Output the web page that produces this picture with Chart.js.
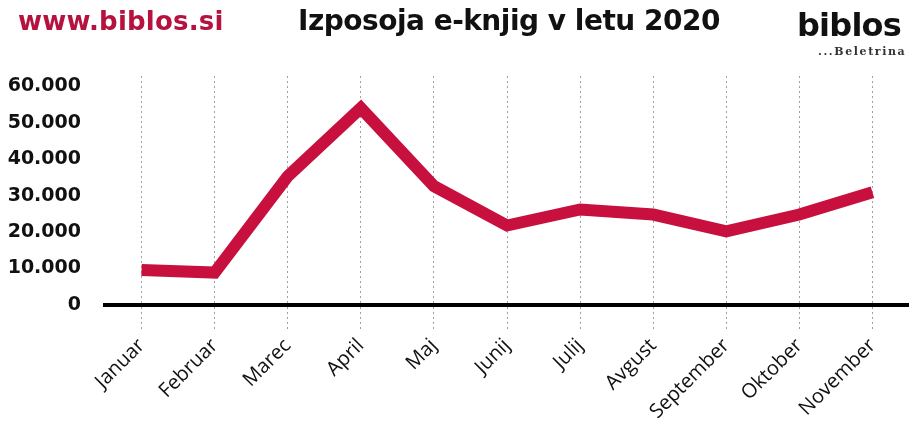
<!DOCTYPE html>
<html>
<head>
<meta charset="utf-8">
<script src="https://cdn.jsdelivr.net/npm/chart.js@4/dist/chart.umd.min.js"></script>
<style>
  html, body { margin: 0; padding: 0; background: #fff; }
  #wrap { position: relative; width: 909px; height: 425px; overflow: hidden; }
  .hdr { position: absolute; white-space: nowrap; font-family: "DejaVu Sans", sans-serif; font-weight: bold; }
  #site { left: 18px; top: 6px; font-size: 26px; color: #b5123f; letter-spacing: 0.2px; }
  #title { left: 298px; top: 4px; font-size: 28px; color: #111; letter-spacing: -0.5px; }
  #logo { left: 797px; top: 6px; font-size: 32px; color: #111; letter-spacing: -0.8px; }
  #sub { left: 818px; top: 45px; font-family: "DejaVu Serif", serif; font-weight: bold; font-size: 11px; color: #333; letter-spacing: 1.6px; }
</style>
</head>
<body>
<div id="wrap">
  <canvas id="myChart" width="909" height="425"></canvas>
  <div class="hdr" id="site">www.biblos.si</div>
  <div class="hdr" id="title">Izposoja e-knjig v letu 2020</div>
  <div class="hdr" id="logo">biblos</div>
  <div class="hdr" id="sub">...Beletrina</div>
</div>
<script>
const ctx = document.getElementById('myChart').getContext('2d');

const months = [
    'Januar', 'Februar', 'Marec', 'April', 'Maj', 'Junij',
    'Julij', 'Avgust', 'September', 'Oktober', 'November'
];

const loans = [9600, 8900, 35300, 54000, 32600, 21800, 26200, 24800, 20200, 24800, 30900];

const yTicks = [0, 10000, 20000, 30000, 40000, 50000, 60000];

const myChart = new Chart(ctx, {
    type: 'line',
    data: {
        labels: months,
        datasets: [
            {
                label: 'Izposoja',
                data: loans,
                borderColor: '#c8103e',
                borderWidth: 12,
                borderJoinStyle: 'miter',
                tension: 0,
                pointRadius: 0
            }
        ]
    },
    options: {
        responsive: false,
        animation: false,
        layout: {
            padding: { top: 76, left: 0, right: 0, bottom: 0 }
        },
        plugins: {
            legend: { display: false },
            tooltip: { enabled: false }
        },
        scales: {
            x: {
                offset: true,
                grid: {
                    offset: false,
                    color: '#a0a0a0',
                    lineWidth: 1,
                    tickLength: 25,
                    tickColor: '#a0a0a0',
                    tickBorderDash: [2, 3]
                },
                border: {
                    display: true,
                    color: '#000',
                    width: 4,
                    dash: [2, 3]
                },
                ticks: {
                    minRotation: 45,
                    maxRotation: 45,
                    padding: 4,
                    color: '#111',
                    font: { family: 'Open Sans', size: 20 }
                },
                afterFit: (scale) => { scale.height = 120; }
            },
            y: {
                min: 0,
                max: 62800,
                grid: { display: false },
                border: { display: false },
                afterBuildTicks: (scale) => {
                    scale.ticks = yTicks.map(v => ({ value: v }));
                },
                afterFit: (scale) => { scale.width = 105; },
                ticks: {
                    padding: 16,
                    color: '#111',
                    font: { family: 'DejaVu Sans', size: 19, weight: 'bold' },
                    callback: (v) => v === 0 ? '0' : v.toLocaleString('de-DE')
                }
            }
        }
    }
});
</script>
</body>
</html>
